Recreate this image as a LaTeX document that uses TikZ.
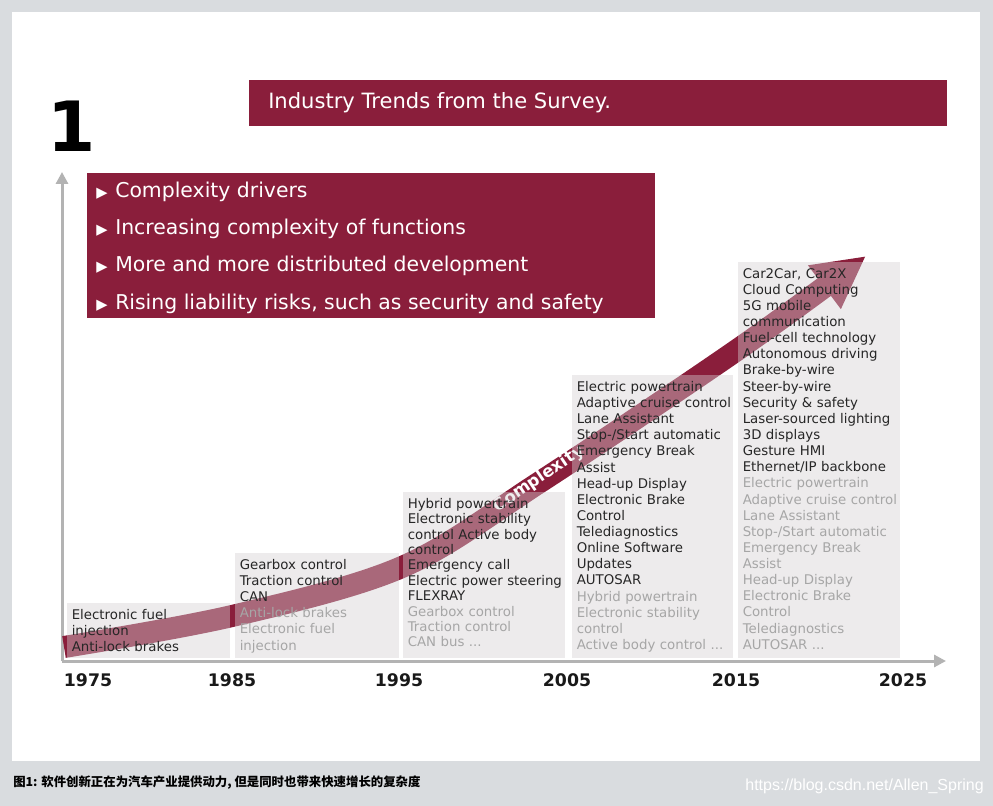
\documentclass[tikz,border=0pt]{standalone}
\usepackage{fontspec}
\setmainfont{DejaVu Sans}
\newfontfamily\cjkfont{Noto Sans CJK SC}
\newfontfamily\urlfont{Liberation Sans}
\usetikzlibrary{arrows.meta}
\definecolor{crimson}{HTML}{8A1E3B}
\definecolor{panelgray}{HTML}{D9DCDF}
\definecolor{boxshade}{RGB}{213,208,211}
\definecolor{textdark}{HTML}{262626}
\definecolor{oldtxt}{HTML}{A6A6A6}
\definecolor{axisgray}{HTML}{B3B3B3}
\newcommand{\erabox}[6]{% #1 name, #2 left, #3 top, #4 right, #5 line skip (pt), #6 items
  \fill[boxshade, fill opacity=0.42] (#2,#3) rectangle (#4,658);
  \node[eratext, font=\fontsize{10}{#5}\selectfont] (#1) at (#2+4.5,#3+6) {#6};
}

\begin{document}
\begin{tikzpicture}[x=0.75pt, y=-0.75pt, every node/.style={inner sep=0pt},
    eratext/.style={anchor=north west, text width=128pt, align=left, text=textdark},
    drivertext/.style={anchor=base west, text=white, font=\fontsize{15.3}{15.3}\selectfont},
    yearlabel/.style={text=black!90, font=\bfseries\fontsize{13}{13}\selectfont},
    axis/.style={draw=axisgray, line width=2.25pt, -{Triangle[length=9pt, width=9pt]}},
    ribbon/.style={draw=crimson, line width=16.5pt, -{Triangle[length=39pt, width=38pt]}}]
  \path[use as bounding box, fill=panelgray] (0,0) rectangle (993,806);
  \fill[white] (12,12) rectangle (980,761);

  % title and drivers
  \fill[crimson] (249,80) rectangle (947,126);
  \node[anchor=base west, text=white, font=\fontsize{15.8}{15.8}\selectfont] (title) at (268,109) {Industry Trends from the Survey.};
  \node[anchor=base west, font=\bfseries\fontsize{52}{52}\selectfont] (num) at (47,152) {1};
  \fill[crimson] (87,173) rectangle (655,318);
  \foreach \txt [count=\i] in {Complexity drivers, Increasing complexity of functions,
      More and more distributed development, {Rising liability risks, such as security and safety}} {
    \node[anchor=base west, text=white, font=\fontsize{11}{11}\selectfont] (bul\i) at (96,161+37*\i) {▶};
    \node[drivertext] (drv\i) at (115,161+37*\i) {\txt};
  }

  % axes
  \coordinate (origin) at (62,661);
  \coordinate (ytip) at (62,172);
  \coordinate (xtip) at (946,661);
  \draw[axis] (origin) -- (ytip);
  \draw[axis] (origin) -- (xtip);

  % complexity ribbon
  \draw[ribbon] plot[smooth, tension=0.55] coordinates {(64,647) (232,616) (402,567) (540,482) (737,350) (866,256)};
  \node[rotate=34, text=white, font=\bfseries\fontsize{12.5}{12.5}\selectfont] (cplx) at (539,479) {Complexity};

  % eras
  \erabox{era75}{67}{603}{230}{12.2}{Electronic fuel\\injection\\Anti-lock brakes}
  \erabox{era85}{235}{553}{399}{12.1}{Gearbox control\\Traction control\\CAN\\\color{oldtxt}Anti-lock brakes\\Electronic fuel\\injection}
  \erabox{era95}{403}{492}{565}{11.55}{Hybrid powertrain\\Electronic stability\\control Active body\\control\\Emergency call\\Electric power steering\\FLEXRAY\\\color{oldtxt}Gearbox control\\Traction control\\CAN bus ...}
  \erabox{era05}{572}{375}{733}{12.1}{Electric powertrain\\Adaptive cruise control\\Lane Assistant\\Stop-/Start automatic\\Emergency Break\\Assist\\Head-up Display\\Electronic Brake\\Control\\Telediagnostics\\Online Software\\Updates\\AUTOSAR\\\color{oldtxt}Hybrid powertrain\\Electronic stability\\control\\Active body control ...}
  \erabox{era15}{738}{262}{900}{12.1}{Car2Car, Car2X\\Cloud Computing\\5G mobile\\communication\\Fuel-cell technology\\Autonomous driving\\Brake-by-wire\\Steer-by-wire\\Security \& safety\\Laser-sourced lighting\\3D displays\\Gesture HMI\\Ethernet/IP backbone\\\color{oldtxt}Electric powertrain\\Adaptive cruise control\\Lane Assistant\\Stop-/Start automatic\\Emergency Break\\Assist\\Head-up Display\\Electronic Brake\\Control\\Telediagnostics\\AUTOSAR ...}

  \foreach \yr/\xx in {1975/88, 1985/232, 1995/399, 2005/567, 2015/736, 2025/903}
    \node[yearlabel] (y\yr) at (\xx,680) {\yr};

  % caption
  \node[anchor=west, font=\cjkfont\bfseries\fontsize{9.3}{9.3}\selectfont] (caption) at (13,783) {图1: 软件创新正在为汽车产业提供动力, 但是同时也带来快速增长的复杂度};
  \node[anchor=east, text=white, font=\urlfont\fontsize{12}{12}\selectfont] (wmark) at (984,786) {https://blog.csdn.net/Allen\_Spring};
\end{tikzpicture}
\end{document}
